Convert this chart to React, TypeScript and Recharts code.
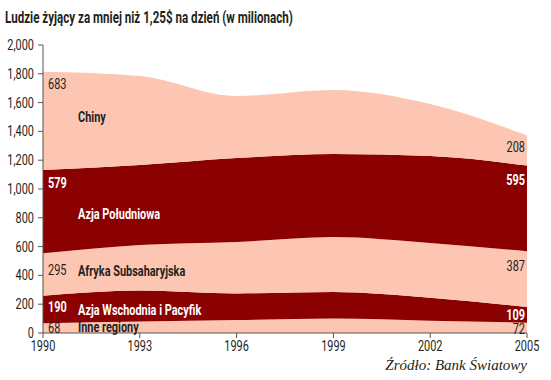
import React from "react";
import { AreaChart, Area, XAxis, YAxis, ReferenceDot } from "recharts";

const years = [1990, 1993, 1996, 1999, 2002, 2005];
const inneRegiony = [68, 80, 90, 100, 85, 72];
const azjaWschodnia = [190, 215, 185, 185, 160, 109];
const afryka = [295, 316, 357, 382, 380, 387];
const azjaPoludniowa = [579, 556, 583, 576, 604, 595];
const chiny = [683, 618, 431, 445, 361, 208];

const yTicks = [0, 200, 400, 600, 800, 1000, 1200, 1400, 1600, 1800, 2000];

const LIGHT = "#fcc6b3";
const DARK = "#8b0000";
const TXT = "#231f20";
const FONT = "Roboto, 'Noto Sans', sans-serif";
const SQUEEZE = 0.78; // no condensed face installed, so narrow the glyphs

// labels placed in data coordinates
const annotations = [
  { x: 1990, y: 1729, text: "683", dark: true, bold: false, anchor: "start" },
  { x: 1990.93, y: 1500, text: "Chiny", dark: true, bold: true, anchor: "start" },
  { x: 1990, y: 1042, text: "579", dark: false, bold: true, anchor: "start" },
  { x: 1990.93, y: 826, text: "Azja Południowa", dark: false, bold: true, anchor: "start" },
  { x: 1990, y: 437, text: "295", dark: true, bold: false, anchor: "start" },
  { x: 1990.93, y: 431, text: "Afryka Subsaharyjska", dark: true, bold: true, anchor: "start" },
  { x: 1990, y: 181, text: "190", dark: false, bold: true, anchor: "start" },
  { x: 1990.93, y: 160, text: "Azja Wschodnia i Pacyfik", dark: false, bold: true, anchor: "start" },
  { x: 1990, y: 35, text: "68", dark: true, bold: false, anchor: "start" },
  { x: 1990.93, y: 42, text: "Inne regiony", dark: true, bold: true, anchor: "start" },
  { x: 2005, y: 1292, text: "208", dark: true, bold: false, anchor: "end" },
  { x: 2005, y: 1063, text: "595", dark: false, bold: true, anchor: "end" },
  { x: 2005, y: 465, text: "387", dark: true, bold: false, anchor: "end" },
  { x: 2005, y: 128, text: "109", dark: false, bold: true, anchor: "end" },
  { x: 2005, y: 30, text: "72", dark: true, bold: false, anchor: "end" },
];

const data = years.map((year, i) => ({
  year,
  inne: inneRegiony[i],
  wschodnia: azjaWschodnia[i],
  afryka: afryka[i],
  poludniowa: azjaPoludniowa[i],
  chiny: chiny[i],
}));

const fmt = (v: number) => v.toLocaleString("en-US");

function NarrowText({ x, y, anchor, children, bold, fill, size = 14, baseline = "central" }: any) {
  return (
    <g transform={`translate(${x},${y}) scale(${SQUEEZE},1)`}>
      <text
        x={0}
        y={0}
        textAnchor={anchor}
        dominantBaseline={baseline}
        fontFamily={FONT}
        fontSize={size}
        fontWeight={bold ? "bold" : "normal"}
        fill={fill}
      >
        {children}
      </text>
    </g>
  );
}

const XTick = (p: any) => (
  <NarrowText x={p.x} y={p.y} anchor="middle" fill={TXT} baseline="hanging">
    {p.payload.value}
  </NarrowText>
);

const YTick = (p: any) => (
  <NarrowText x={p.x} y={p.y} anchor="end" fill={TXT}>
    {fmt(p.payload.value)}
  </NarrowText>
);

export default function App() {
  return (
    <div style={{ position: "absolute", left: 0, top: 0, width: 551, height: 380, background: "#fff" }}>
      <div
        style={{
          position: "absolute",
          left: 5,
          top: 8,
          fontFamily: FONT,
          fontWeight: "bold",
          fontSize: 16,
          color: TXT,
          whiteSpace: "nowrap",
          transform: "scaleX(0.725)",
          transformOrigin: "0 0",
        }}
      >
        Ludzie żyjący za mniej niż 1,25$ na dzień (w milionach)
      </div>
      <AreaChart
        width={551}
        height={380}
        data={data}
        margin={{ top: 45, right: 24, bottom: 0, left: 0 }}
      >
        <XAxis
          dataKey="year"
          type="number"
          domain={[1990, 2005]}
          ticks={years}
          tickSize={5}
          tickLine={{ stroke: "#555" }}
          axisLine={{ stroke: "#555" }}
          tick={<XTick />}
          tickMargin={2}
          height={47}
        />
        <YAxis
          domain={[0, 2000]}
          ticks={yTicks}
          tickSize={5}
          tickLine={{ stroke: "#555" }}
          axisLine={{ stroke: "#555" }}
          tick={<YTick />}
          tickMargin={4}
          width={43}
          interval={0}
        />
        <Area type="monotone" dataKey="inne" stackId="1" stroke="none" fill={LIGHT} fillOpacity={1} isAnimationActive={false} />
        <Area type="monotone" dataKey="wschodnia" stackId="1" stroke="none" fill={DARK} fillOpacity={1} isAnimationActive={false} />
        <Area type="monotone" dataKey="afryka" stackId="1" stroke="none" fill={LIGHT} fillOpacity={1} isAnimationActive={false} />
        <Area type="monotone" dataKey="poludniowa" stackId="1" stroke="none" fill={DARK} fillOpacity={1} isAnimationActive={false} />
        <Area type="monotone" dataKey="chiny" stackId="1" stroke="none" fill={LIGHT} fillOpacity={1} isAnimationActive={false} />
        {annotations.map((a, i) => (
          <ReferenceDot
            key={i}
            x={a.x}
            y={a.y}
            r={0}
            ifOverflow="visible"
            shape={(p: any) => (
              <NarrowText
                x={p.cx + (a.anchor === "start" ? 5 : -2)}
                y={p.cy}
                anchor={a.anchor}
                bold={a.bold}
                fill={a.dark ? TXT : "#ffffff"}
              >
                {a.text}
              </NarrowText>
            )}
          />
        ))}
      </AreaChart>
      <div
        style={{
          position: "absolute",
          right: 24,
          top: 357,
          fontFamily: "'Liberation Serif', serif",
          fontStyle: "italic",
          fontSize: 15,
          color: TXT,
        }}
      >
        Źródło: Bank Światowy
      </div>
    </div>
  );
}
